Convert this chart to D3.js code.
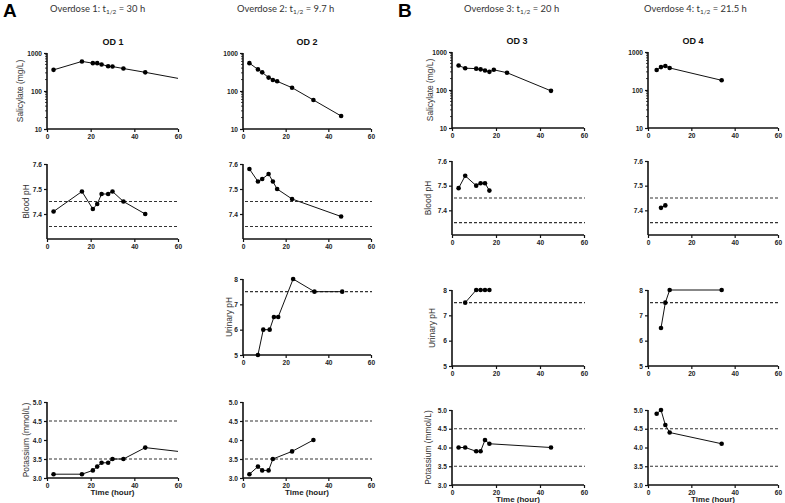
<!DOCTYPE html>
<html><head><meta charset="utf-8">
<script src="https://cdn.jsdelivr.net/npm/d3@7"></script>
<style>body{margin:0;background:#fff}svg{display:block}</style>
</head><body><svg id="c" width="785" height="503"></svg>
<script>
// ---------- data ----------
const xTicks=[0,20,40,60];
const salTicks=[10,100,1000];
const bphTicks=[7.4,7.5,7.6];
const uriTicks=[5,6,7,8];
const kTicks=[3.0,3.5,4.0,4.5,5.0];
const bphNormal=[7.35,7.45];
const uriRef=[7.5];
const kNormal=[3.5,4.5];

const headers=["Overdose 1: t","Overdose 2: t","Overdose 3: t","Overdose 4: t"];
const headerTails=[" =  30 h"," = 9.7 h"," = 20 h"," = 21.5 h"];
const titles=["OD 1","OD 2","OD 3","OD 4"];

const od1SalT=[3,16,21,23,25,28,30,35,45];
const od1Sal=[360,600,540,540,500,450,440,390,310];
const od1SalEndT=[60], od1SalEnd=[215];
const od1BphT=[3,16,21,23,25,28,30,35,45];
const od1Bph=[7.41,7.49,7.42,7.44,7.48,7.48,7.49,7.45,7.40];
const od1KT=[3,16,21,23,25,28,30,35,45];
const od1K=[3.1,3.1,3.2,3.3,3.4,3.4,3.5,3.5,3.8];
const od1KEndT=[60], od1KEnd=[3.7];

const od2SalT=[3,7,9,12,14,16,23,33,46];
const od2Sal=[540,370,310,225,195,180,122,58,22];
const od2BphT=[3,7,9,12,14,16,23,46];
const od2Bph=[7.58,7.53,7.54,7.56,7.53,7.50,7.46,7.39];
const od2UriT=[7,9.5,12.5,14.5,16.5,23.5,33.5,46.5];
const od2Uri=[5,6,6,6.5,6.5,8,7.5,7.5];
const od2KT=[3,7,9,12,14,23,33];
const od2K=[3.1,3.3,3.2,3.2,3.5,3.7,4.0];

const od3SalT=[3,6,11,13,15,17,19,25,45];
const od3Sal=[440,375,365,350,325,300,340,285,95];
const od3BphT=[3,6,11,13,15,17];
const od3Bph=[7.49,7.54,7.50,7.51,7.51,7.48];
const od3UriT=[6,11,13,15,17];
const od3Uri=[7.5,8,8,8,8];
const od3KT=[3,6,11,13,15,17,45];
const od3K=[4.0,4.0,3.9,3.9,4.2,4.1,4.0];

const od4SalT=[4,6,8,10,34];
const od4Sal=[335,400,430,380,180];
const od4BphT=[6,8];
const od4Bph=[7.41,7.42];
const od4UriT=[6,8,10,34];
const od4Uri=[6.5,7.5,8,8];
const od4KT=[4,6,8,10,34];
const od4K=[4.9,5.0,4.6,4.4,4.1];

// ---------- layout ----------
const cols=[{x0:47,x1:178,tx:113,hx:50},{x0:243,x1:371,tx:307,hx:237},{x0:452,x1:584,tx:517,hx:464},{x0:648,x1:778,tx:693,hx:644}];
const rowsA={sal:[53,129],bph:[164,239],uri:[279,355],k:[402,478]};
const rowsB={sal:[52,128],bph:[161,235],uri:[290,366],k:[410,485]};
const ySpec={
  sal:{log:true,dom:[10,1000],ticks:salTicks,fmt:d3.format("d"),ref:[],label:"Salicylate (mg/L)"},
  bph:{dom:[7.3,7.6],ticks:bphTicks,fmt:d3.format(".1f"),ref:bphNormal,label:"Blood pH"},
  uri:{dom:[5,8],ticks:uriTicks,fmt:d3.format("d"),ref:uriRef,label:"Urinary pH"},
  k:{dom:[3,5],ticks:kTicks,fmt:d3.format(".1f"),ref:kNormal,label:"Potassium (mmol/L)"}
};
const zip=(t,v)=>t.map((d,i)=>[d,v[i]]);
const panels=[
  {c:0,r:"sal",pts:zip(od1SalT,od1Sal),tail:zip(od1SalEndT,od1SalEnd),lx:20},
  {c:0,r:"bph",pts:zip(od1BphT,od1Bph),lx:26},
  {c:0,r:"k",pts:zip(od1KT,od1K),tail:zip(od1KEndT,od1KEnd),lx:26,time:true},
  {c:1,r:"sal",pts:zip(od2SalT,od2Sal)},
  {c:1,r:"bph",pts:zip(od2BphT,od2Bph)},
  {c:1,r:"uri",pts:zip(od2UriT,od2Uri),lx:229},
  {c:1,r:"k",pts:zip(od2KT,od2K),time:true},
  {c:2,r:"sal",pts:zip(od3SalT,od3Sal),lx:430},
  {c:2,r:"bph",pts:zip(od3BphT,od3Bph),lx:428},
  {c:2,r:"uri",pts:zip(od3UriT,od3Uri),lx:432},
  {c:2,r:"k",pts:zip(od3KT,od3K),lx:428,time:true},
  {c:3,r:"sal",pts:zip(od4SalT,od4Sal)},
  {c:3,r:"bph",pts:zip(od4BphT,od4Bph)},
  {c:3,r:"uri",pts:zip(od4UriT,od4Uri)},
  {c:3,r:"k",pts:zip(od4KT,od4K),time:true}
];

const svg=d3.select("#c");
const tickFont="Liberation Sans, Arial, sans-serif";

// panel letters & headers
[["A",3],["B",398]].forEach(([t,x])=>svg.append("text").attr("x",x).attr("y",17)
  .attr("font-family","Liberation Sans, Arial, sans-serif").attr("font-weight","bold")
  .attr("font-size",19).attr("fill","#000").text(t));
cols.forEach((c,i)=>{
  const t=svg.append("text").attr("x",c.hx).attr("y",11.5).attr("font-family","Lato, 'Open Sans', sans-serif")
    .attr("font-size",9.4).attr("fill","#333");
  t.append("tspan").text(headers[i]);
  t.append("tspan").attr("font-size",6.5).attr("dy",2).text("1/2");
  t.append("tspan").attr("dy",-2).text(headerTails[i]);
  const rs=i<2?rowsA:rowsB;
  svg.append("text").attr("x",c.tx).attr("y",rs.sal[0]-8).attr("text-anchor","middle")
    .attr("font-family",tickFont).attr("font-weight","bold").attr("font-size",9).attr("fill","#111").text(titles[i]);
});

panels.forEach(p=>{
  const c=cols[p.c], rs=p.c<2?rowsA:rowsB, [yt,yb]=rs[p.r], s=ySpec[p.r];
  const x=d3.scaleLinear().domain([0,60]).range([c.x0,c.x1]);
  const y=(s.log?d3.scaleLog():d3.scaleLinear()).domain(s.dom).range([yb,yt]);
  const g=svg.append("g");
  // reference lines
  s.ref.forEach(v=>g.append("line").attr("x1",c.x0+2).attr("x2",c.x1+1).attr("y1",y(v)).attr("y2",y(v))
    .attr("stroke","#333").attr("stroke-width",1.2).attr("stroke-dasharray","3,2"));
  // axes
  const xa=g.append("g").attr("transform",`translate(0,${yb})`)
    .call(d3.axisBottom(x).tickValues(xTicks).tickSize(3).tickPadding(2).tickFormat(d3.format("d")));
  const ya=g.append("g").attr("transform",`translate(${c.x0},0)`)
    .call(d3.axisLeft(y).tickValues(s.ticks).tickSize(3).tickPadding(2).tickFormat(s.fmt));
  [xa,ya].forEach(a=>{
    a.select(".domain").attr("stroke","#111").attr("stroke-width",1.6);
    a.selectAll(".tick line").attr("stroke","#111").attr("stroke-width",1.2);
    a.selectAll("text").attr("font-family",tickFont).attr("font-weight","bold").attr("font-size",6.6).attr("fill","#222");
  });
  xa.select(".domain").attr("d",`M${c.x0},0H${c.x1}`);
  ya.select(".domain").attr("d",`M0,${yb}V${yt}`);
  if(s.log){
    const minors=[];
    [10,100].forEach(d=>{for(let k=2;k<10;k++)minors.push(d*k);});
    g.selectAll(".mn").data(minors).join("line").attr("x1",c.x0-2).attr("x2",c.x0)
      .attr("y1",d=>y(d)).attr("y2",d=>y(d)).attr("stroke","#111").attr("stroke-width",0.8);
  }
  // line
  const all=p.pts.concat(p.tail||[]);
  g.append("path").datum(all).attr("fill","none").attr("stroke","#111").attr("stroke-width",1)
    .attr("d",d3.line().x(d=>x(d[0])).y(d=>y(d[1])));
  g.selectAll("circle").data(p.pts).join("circle").attr("cx",d=>x(d[0])).attr("cy",d=>y(d[1]))
    .attr("r",2.3).attr("fill","#000");
  // labels
  if(p.lx!==undefined){
    const my=(yt+yb)/2;
    svg.append("text").attr("transform",`translate(${p.lx},${my}) rotate(-90)`).attr("text-anchor","middle")
      .attr("dy","0.35em").attr("font-family","'Liberation Sans', Arial, sans-serif")
      .attr("font-size",8.4).attr("fill","#333").text(s.label);
  }
  if(p.time){
    svg.append("text").attr("x",(c.x0+c.x1)/2).attr("y",yb+17).attr("text-anchor","middle")
      .attr("font-family",tickFont).attr("font-weight","bold").attr("font-size",8).attr("fill","#222").text("Time (hour)");
  }
});
</script></body></html>
